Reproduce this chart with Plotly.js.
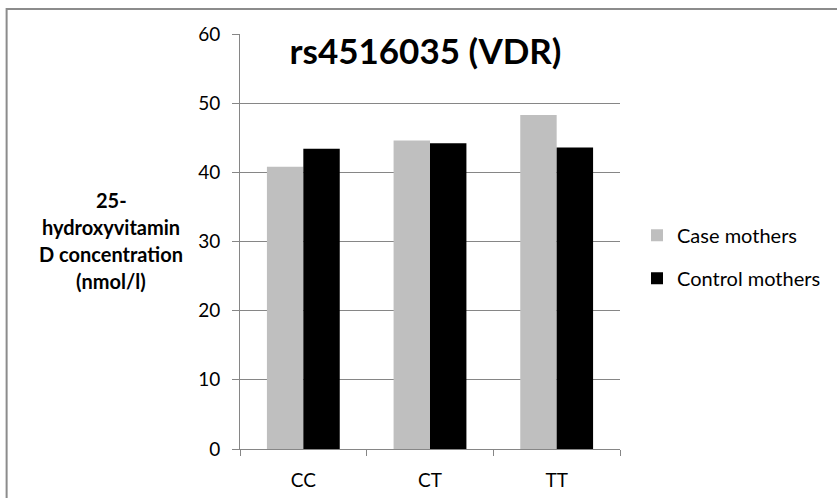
<!DOCTYPE html>
<html>
<head>
<meta charset="utf-8">
<script src="https://cdn.plot.ly/plotly-3.0.1.min.js"></script>
<style>html,body{margin:0;padding:0;background:#fff;}#chart{width:837px;height:498px;}</style>
</head>
<body>
<div id="chart"></div>
<script>
const categories = ["CC", "CT", "TT"];
const caseMothers = [40.8, 44.6, 48.3];
const controlMothers = [43.4, 44.2, 43.6];
const seriesNames = ["Case mothers", "Control mothers"];
const chartTitle = "rs4516035 (VDR)";
const yTitleLines = ["25-", "hydroxyvitamin", "D concentration", "(nmol/l)"];
const yTicks = [0, 10, 20, 30, 40, 50, 60];

const FONT = "Lato, 'Open Sans', sans-serif";
const AX = "#868686";

const traces = [
  {type: "bar", x: categories, y: caseMothers, name: seriesNames[0],
   marker: {color: "#BFBFBF"}, legendgroup: "a", hoverinfo: "x+y"},
  {type: "bar", x: categories, y: controlMothers, name: seriesNames[1],
   marker: {color: "#000000"}, legendgroup: "b", hoverinfo: "x+y"}
];

// plot area in pixels: x 240..621, y 34..449.5
const L = 240, R = 621, T = 34, B = 449.5, W = 837, H = 498;
const px = v => (v - L) / (R - L);
const py = v => (B - v) / (B - T);

const yTitleCenters = [200, 227, 254, 281];
const annotations = yTitleLines.map((t, i) => ({
  text: "<b>" + t + "</b>", xref: "paper", yref: "paper",
  x: px(111), y: py(yTitleCenters[i]), xanchor: "center", yanchor: "middle",
  showarrow: false, font: {family: FONT, size: 20, color: "#000"}
}));

const layout = {
  width: W, height: H,
  margin: {l: L, r: W - R, t: T, b: H - B, pad: 0},
  paper_bgcolor: "#fff", plot_bgcolor: "#fff",
  font: {family: FONT, size: 19, color: "#000"},
  title: {text: "<b>" + chartTitle + "</b>", xref: "container", yref: "container",
          x: 425.5 / W, y: 1 - 52 / H, xanchor: "center", yanchor: "middle",
          font: {family: FONT, size: 35, color: "#000"}},
  bargap: 0.425, bargroupgap: 0, barmode: "group",
  xaxis: {type: "category", showline: true, linecolor: AX, linewidth: 1,
          ticks: "outside", tickson: "boundaries", ticklen: 6, tickcolor: AX,
          showgrid: false, zeroline: false, ticklabelstandoff: 14,
          tickfont: {family: FONT, size: 19, color: "#000"}},
  yaxis: {range: [0, 60], tickvals: yTicks, showline: true, linecolor: AX, linewidth: 1,
          ticks: "outside", ticklen: 7, tickcolor: AX, showgrid: true, gridcolor: AX,
          gridwidth: 1, zeroline: false, ticklabelstandoff: 8,
          tickfont: {family: FONT, size: 19, color: "#000"}},
  showlegend: true,
  legend: {x: px(637), y: py(257), xanchor: "left", yanchor: "middle",
           traceorder: "grouped", tracegroupgap: 14,
           font: {family: FONT, size: 20, color: "#000"}, bgcolor: "rgba(0,0,0,0)"},
  annotations: annotations,
  shapes: [{type: "rect", xref: "paper", yref: "paper",
            x0: px(6), x1: px(900), y0: py(560), y1: py(9),
            line: {color: "#8c8c8c", width: 2}, fillcolor: "rgba(0,0,0,0)", layer: "below"}]
};

Plotly.newPlot("chart", traces, layout, {displayModeBar: false, staticPlot: true});
</script>
</body>
</html>
